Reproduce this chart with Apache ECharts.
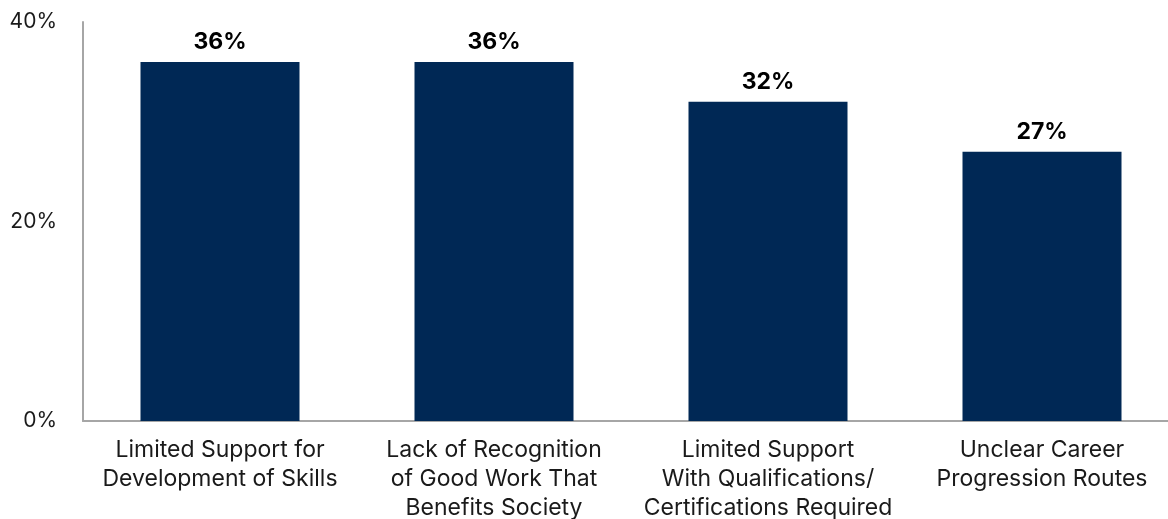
<!DOCTYPE html>
<html><head><meta charset="utf-8">
<script src="https://cdn.jsdelivr.net/npm/echarts@6/dist/echarts.min.js"></script>
<style>html,body{margin:0;padding:0;background:#fff}#c{width:1168px;height:519px}</style>
</head><body><div id="c"></div>
<script>
const categories = [
  "Limited Support for\nDevelopment of Skills",
  "Lack of Recognition\nof Good Work That\nBenefits Society",
  "Limited Support\nWith Qualifications/\nCertifications Required",
  "Unclear Career\nProgression Routes"
];
const values = [36, 36, 32, 27];

const chart = echarts.init(document.getElementById('c'));
chart.setOption({
  animation: false,
  grid: { left: 83, top: 22, bottom: 98, width: 1096, containLabel: false, outerBoundsMode: 'none' },
  xAxis: {
    type: 'category', data: categories,
    axisLine: { lineStyle: { color: '#a6a6a6', width: 2 } },
    axisTick: { show: false },
    axisLabel: { interval: 0, color: '#1a1a1a', fontFamily: 'Inter', fontSize: 23, lineHeight: 29, margin: 15 }
  },
  yAxis: {
    type: 'value', min: 0, max: 40, interval: 20,
    axisLine: { show: true, lineStyle: { color: '#a6a6a6', width: 2 } },
    axisTick: { show: false },
    splitLine: { show: false },
    axisLabel: { color: '#1a1a1a', fontFamily: 'Inter', fontSize: 21, margin: 26, formatter: v => v + '%' }
  },
  series: [{
    type: 'bar', data: values, barWidth: 159,
    itemStyle: { color: '#002855' },
    label: { show: true, position: 'top', distance: 8, color: '#000', fontFamily: 'Inter', fontWeight: 'bold', fontSize: 23, formatter: p => p.value + '%' }
  }]
});
</script></body></html>
